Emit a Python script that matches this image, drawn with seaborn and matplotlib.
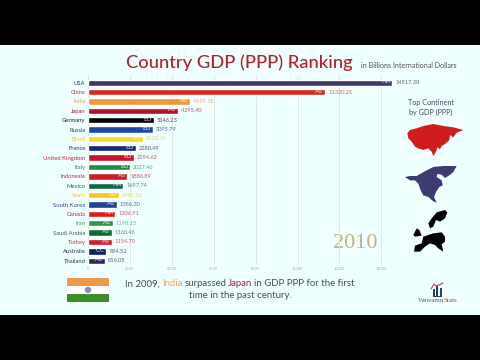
import matplotlib
matplotlib.use("Agg")
import matplotlib.pyplot as plt
from matplotlib.patches import Polygon, Rectangle, Circle
import pandas as pd
import seaborn as sns

countries = ["USA", "China", "India", "Japan", "Germany", "Russia", "Brazil", "France",
             "United Kingdom", "Italy", "Indonesia", "Mexico", "Spain", "South Korea",
             "Canada", "Iran", "Saudi Arabia", "Turkey", "Australia", "Thailand"]
gdp = [14517.30, 11320.21, 4859.58, 4295.40, 3146.23, 3095.79, 2615.76, 2280.49,
       2194.62, 2027.46, 1886.89, 1697.74, 1486.56, 1386.30, 1306.91, 1198.15,
       1160.46, 1154.70, 894.52, 816.05]
continents = ["NA", "AS", "AS", "AS", "EU", "EU", "SA", "EU", "EU", "EU",
              "AS", "NA", "EU", "AS", "NA", "AS", "AS", "AS", "OC", "AS"]
bar_colors = ["#3b3a6e", "#d42a1e", "#ee9a3c", "#b50f30", "#000000", "#1a47a8", "#f8dc28",
              "#14267f", "#c8142c", "#1c8c46", "#cc1c28", "#0e6a48", "#f4c820", "#1c4490",
              "#e01a1a", "#2a9a48", "#0c6c34", "#d81a2a", "#0e1f6a", "#2d2a5c"]
name_colors = ["#3b3a5e", "#c8322a", "#eaa650", "#a5213c", "#222222", "#27407f", "#eccb3c",
               "#27306f", "#b5283c", "#3a8a56", "#b5303c", "#2f6a50", "#eccb3c", "#2f4a80",
               "#c8303a", "#4a9a62", "#2f6a4c", "#c8303c", "#27306a", "#3a3a5c"]
ticks = [0, 2000, 4000, 6000, 8000, 10000, 12000, 14000]
year = "2010"

BG = "#f0ffff"
sns.set_theme(style="white")
plt.rcParams["font.family"] = ["Lato", "DejaVu Sans"]

fig = plt.figure(figsize=(4.8, 3.6), dpi=100, facecolor=BG)
W, H = 480, 360

# full-figure overlay in pixel coordinates
ov = fig.add_axes([0, 0, 1, 1], zorder=0)
ov.set_xlim(0, W); ov.set_ylim(H, 0); ov.axis("off")
ov.add_patch(Rectangle((0, 0), W, 45, color="black", lw=0))
ov.add_patch(Rectangle((0, 315), W, 45, color="black", lw=0))

# bars
px0, px1, py0, py1 = 87.7, 400, 75, 265
ax = fig.add_axes([px0 / W, 1 - py1 / H, (px1 - px0) / W, (py1 - py0) / H], zorder=1)
ax.patch.set_alpha(0)
df = pd.DataFrame({"country": countries, "gdp": gdp})
sns.barplot(data=df, x="gdp", y="country", hue="country", palette=bar_colors, legend=False,
            ax=ax, width=0.68, saturation=1, zorder=3)
ax.set_xlim(0, (px1 - px0) / 0.02098)
ax.set_ylim((py1 - 82.7) / 9.37, -(82.7 - py0) / 9.37)
ax.set_xlabel(""); ax.set_ylabel("")
ax.set_xticks(ticks)
ax.set_xticklabels([str(t) for t in ticks], fontsize=2.8, color="#aaaaaa")
ax.tick_params(axis="x", length=0, pad=1.5)
ax.tick_params(axis="y", length=0, pad=1.5)
ax.set_yticks(range(len(countries)))
ax.set_yticklabels(countries, fontsize=4.2)
for lab, c in zip(ax.get_yticklabels(), name_colors):
    lab.set_color(c)
for s in ax.spines.values():
    s.set_visible(False)
ax.grid(axis="x", color="#dfe8e4", lw=0.7, zorder=0)
ax.grid(axis="y", visible=False)
ax.set_axisbelow(True)
for i, (v, code, c) in enumerate(zip(gdp, continents, name_colors)):
    ax.text(v + 140, i, f"{v:.2f}", fontsize=4.1, color=c, va="center", ha="left", alpha=0.8)
    ax.text(v - 90, i - 0.1, code, fontsize=4.6, color="white", va="center", ha="right", alpha=0.85)

# title
ov.text(239.5, 63, "Country GDP (PPP) Ranking", fontsize=13.2, fontweight=500,
        color="#b2222a", ha="center", va="center")
ov.text(408.5, 65, "in Billions International Dollars", fontsize=5.1, color="#555555",
        ha="center", va="center")

# side heading
ov.text(431, 103, "Top Continent", fontsize=5.2, color="#44505a", ha="center", va="center")
ov.text(431, 112, "by GDP (PPP)", fontsize=5.2, color="#44505a", ha="center", va="center")


def sil(points, ox, oy, color):
    ov.add_patch(Polygon([(ox + x / 3, oy + y / 3) for x, y in points], color=color, lw=0))


asia = [(22,40),(30,30),(50,25),(70,18),(100,12),(130,18),(160,22),(190,30),(170,38),(160,52),
        (150,45),(148,60),(135,72),(125,78),(120,88),(112,82),(108,95),(100,108),(95,95),(85,85),
        (70,90),(55,85),(45,80),(35,65),(25,55)]
na = [(15,45),(30,42),(50,42),(62,35),(80,25),(100,15),(130,12),(170,12),(160,30),(148,40),
      (135,48),(125,38),(112,36),(110,45),(125,55),(128,70),(118,75),(108,90),(102,105),(110,122),
      (100,118),(85,105),(70,100),(62,85),(55,65),(45,55),(30,55)]
scand = [(85,55),(95,40),(110,22),(135,15),(142,22),(135,40),(120,50),(108,45),(100,65),(90,70)]
main_eu = [(70,95),(85,90),(100,85),(125,82),(135,95),(135,110),(125,118),(130,140),(115,130),
           (105,120),(90,115),(75,125),(60,140),(42,140),(45,122),(65,115)]
uk = [(50,70),(58,75),(65,92),(45,95),(40,90)]
sil(asia, 400, 120, "#d01c1c")
sil(na, 400, 162, "#3d3b72")
for pts in (scand, main_eu, uk):
    sil(pts, 400, 205, "black")

# year
ov.text(355.5, 244, year, fontsize=16, family="Liberation Serif", color="#c9b27c", ha="center", va="center")

# flag
ov.add_patch(Rectangle((67, 278), 42, 8, color="#ee9a4a", lw=0))
ov.add_patch(Rectangle((67, 286), 42, 8, color="white", lw=0))
ov.add_patch(Rectangle((67, 294), 42, 8, color="#3f8f2a", lw=0))
ov.add_patch(Circle((88, 290), 3.2, fc="#8f8fb5", ec="none"))


# lines of text with coloured words
def line(parts, center, y, size=6.9, space_em=0.19, **kw):
    r = fig.canvas.get_renderer()
    ts = [ov.text(0, y, s, fontsize=size, color=c, ha="left", va="center", **kw) for s, c in parts]
    widths = [t.get_window_extent(r).width for t in ts]
    space = size * 100 / 72 * space_em
    total = sum(widths) + space * (len(ts) - 1)
    x = center - total / 2
    for t, w in zip(ts, widths):
        t.set_x(x)
        x += w + space


line([("In 2009,", "#44505a"), ("India", "#eaa650"), ("surpassed", "#44505a"), ("Japan", "#a5213c"),
      ("in GDP PPP for the first", "#44505a")], 240, 284)
line([("time in the past century.", "#44505a")], 240, 296)

# logo
for x, top in [(432.5, 289), (436, 286), (439.5, 288)]:
    ov.add_patch(Rectangle((x, top), 2, 296.5 - top, color="#27406f", lw=0))
ov.add_patch(Rectangle((432.5, 295.5), 9, 1.3, color="#27406f", lw=0))
ov.plot([431, 434, 436, 439, 443], [289, 284, 286, 285, 283], color="#a5303c", lw=0.7)
line([("Wawamu", "#44607f"), ("Stats", "#a5404c")], 437.5, 301, size=5, space_em=0,
     family="Liberation Serif")

fig.savefig("out.png", dpi=100, facecolor=BG)
